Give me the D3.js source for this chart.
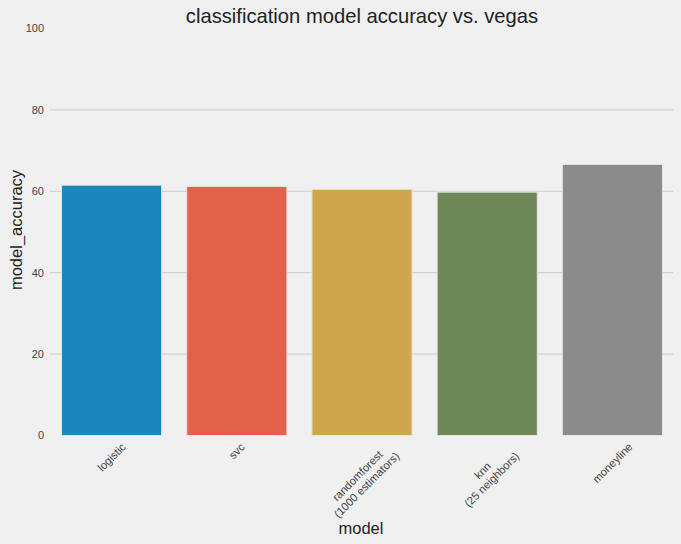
<!DOCTYPE html>
<html>
<head>
<meta charset="utf-8">
<script src="https://cdn.jsdelivr.net/npm/d3@7"></script>
<style>
  html, body { margin: 0; padding: 0; background: #f0f0f0; }
  svg { display: block; }
  text { font-family: "Liberation Sans", Arial, Helvetica, sans-serif; }
</style>
</head>
<body>
<svg id="chart" width="681" height="544"></svg>
<script>
const categories = ["logistic", "svc", "randomforest\n(1000 estimators)", "knn\n(25 neighbors)", "moneyline"];
const accuracy = [61.5, 61.2, 60.5, 59.8, 66.6];
const barColors = ["#1b86bb", "#e2614a", "#cfa64e", "#6e8857", "#8b8b8b"];
const yTicks = [0, 20, 40, 60, 80, 100];
const titleText = "classification model accuracy vs. vegas";
const xLabel = "model";
const yLabel = "model_accuracy";

const W = 681, H = 544;
const margin = { left: 49, right: 6, top: 28.5, bottom: 108.5 };
const svg = d3.select("#chart");
svg.append("rect").attr("width", W).attr("height", H).attr("fill", "#f0f0f0");

const x = d3.scaleBand().domain(categories).range([margin.left, W - margin.right]).paddingInner(0.2).paddingOuter(0.1);
const y = d3.scaleLinear().domain([0, 100]).range([H - margin.bottom, margin.top]);

// grid lines (interior ticks only)
const grid = svg.append("g");
grid.selectAll("line").data(yTicks.filter(d => d > 0 && d < 100)).join("line")
  .attr("x1", margin.left + 1).attr("x2", W - 8)
  .attr("y1", d => y(d)).attr("y2", d => y(d))
  .attr("stroke", "#cbcbcb").attr("stroke-width", 1);

// y tick labels
svg.append("g").selectAll("text").data(yTicks).join("text")
  .attr("x", 44).attr("y", d => y(d)).attr("dy", "0.35em")
  .attr("text-anchor", "end").attr("font-size", 11).attr("fill", "#444")
  .text(d => d);

// bars
svg.append("g").selectAll("rect").data(categories).join("rect")
  .attr("x", d => x(d)).attr("width", x.bandwidth())
  .attr("y", (d, i) => y(accuracy[i])).attr("height", (d, i) => y(0) - y(accuracy[i]))
  .attr("fill", (d, i) => barColors[i])
  .attr("stroke", "#e4e4e4").attr("stroke-width", 1);

// x tick labels rotated 45
const xt = svg.append("g");
categories.forEach(c => {
  const g = xt.append("g");
  const t = g.append("text").attr("transform", "rotate(-45)")
    .attr("text-anchor", "middle").attr("font-size", 11.2).attr("fill", "#444");
  const lines = c.split("\n");
  lines.forEach((ln, i) => {
    t.append("tspan").attr("x", 0).attr("dy", i === 0 ? 0 : "1.15em").text(ln);
  });
  const bb = g.node().getBBox();
  const cx = x(c) + x.bandwidth() / 2;
  g.attr("transform", `translate(${cx - (bb.x + bb.width / 2)},${y(0) + 5 - bb.y})`);
});

// title
svg.append("text").attr("x", (margin.left + W - margin.right) / 2).attr("y", 23)
  .attr("text-anchor", "middle").attr("font-size", 20.2).attr("fill", "#222")
  .text(titleText);

// x label
svg.append("text").attr("x", 361).attr("y", 534)
  .attr("text-anchor", "middle").attr("font-size", 16.5).attr("fill", "#222")
  .text(xLabel);

// y label
svg.append("text").attr("transform", `translate(22,${(y(0) + y(100)) / 2 - 2}) rotate(-90)`)
  .attr("text-anchor", "middle").attr("font-size", 16.5).attr("fill", "#222")
  .text(yLabel);
</script>
</body>
</html>
